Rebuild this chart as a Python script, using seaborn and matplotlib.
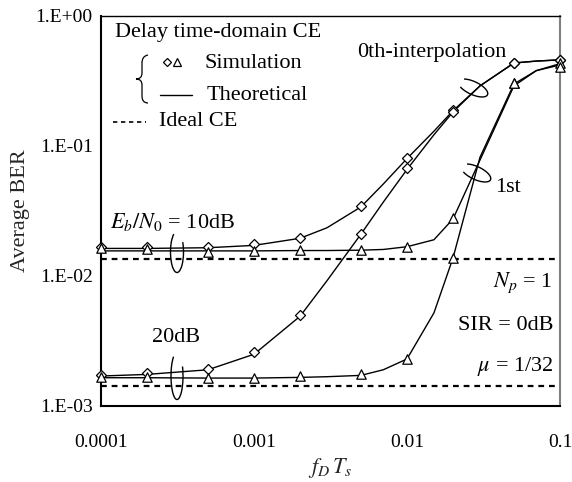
import matplotlib
matplotlib.use("Agg")
import matplotlib.pyplot as plt
import seaborn as sns
import numpy as np
import pandas as pd
from matplotlib import font_manager
from matplotlib.patches import Arc, PathPatch
from matplotlib.path import Path
from matplotlib.lines import Line2D
from matplotlib.transforms import IdentityTransform
from matplotlib.ticker import FixedLocator, FixedFormatter, LogLocator, NullFormatter

# ---------------- data ----------------
x_sim = [1e-4, 2e-4, 5e-4, 1e-3, 2e-3, 5e-3, 1e-2, 2e-2, 5e-2, 1e-1]
sim_0th_10 = [0.0167, 0.0168, 0.0168, 0.0176, 0.0197, 0.0346, 0.081, 0.189, 0.435, 0.46]
sim_0th_20 = [0.00173, 0.00178, 0.00193, 0.0026, 0.0050, 0.021, 0.068, 0.183, 0.435, 0.46]
sim_1st_10 = [0.0163, 0.0160, 0.0152, 0.0155, 0.0158, 0.0158, 0.0166, 0.0279, 0.305, 0.435]
sim_1st_20 = [0.00168, 0.00168, 0.00164, 0.00164, 0.0017, 0.00176, 0.0023, 0.0138, 0.305, 0.405]

x_th = [1e-4, 2e-4, 5e-4, 1e-3, 2e-3, 3e-3, 5e-3, 7e-3, 1e-2, 1.5e-2, 2e-2, 3e-2, 5e-2, 7e-2, 1e-1]
th_0th_10 = [0.0163, 0.0163, 0.0165, 0.0172, 0.0195, 0.0235, 0.034, 0.051, 0.080, 0.130, 0.187, 0.29, 0.435, 0.45, 0.46]
th_0th_20 = [0.0017, 0.00175, 0.0019, 0.0025, 0.0049, 0.0092, 0.021, 0.037, 0.066, 0.122, 0.183, 0.29, 0.435, 0.45, 0.46]
th_1st_10 = [0.0156, 0.0156, 0.0156, 0.0156, 0.0157, 0.0157, 0.0158, 0.0160, 0.0168, 0.019, 0.0275, 0.078, 0.29, 0.38, 0.43]
th_1st_20 = [0.00165, 0.00165, 0.00164, 0.00164, 0.00166, 0.00168, 0.00172, 0.0019, 0.0023, 0.0052, 0.0138, 0.082, 0.30, 0.38, 0.42]

x_ideal = [1e-4, 1e-1]
ideal_10 = [0.0134, 0.0134]
ideal_20 = [0.00142, 0.00142]

x_ticks = [1e-4, 1e-3, 1e-2, 1e-1]
x_ticklabels = ["0.0001", "0.001", "0.01", "0.1"]
y_ticks = [1e-3, 1e-2, 1e-1, 1e0]
y_ticklabels = ["1.E-03", "1.E-02", "1.E-01", "1.E+00"]

# ---------------- style ----------------
sns.set_theme(style="white")
_names = {f.name for f in font_manager.fontManager.ttflist}
serif = None
for cand in ("Liberation Serif", "Times New Roman", "STIXGeneral", "DejaVu Serif"):
    if cand in _names:
        serif = cand
        break
plt.rcParams["font.family"] = [serif, "DejaVu Serif"]
plt.rcParams["mathtext.fontset"] = "stix"

W, H = 572, 482
fig = plt.figure(figsize=(W / 100, H / 100), dpi=100)
ax = fig.add_axes([101 / W, 1 - 406 / H, (560 - 101) / W, (406 - 16) / H])

# theoretical curves
for ys in (th_0th_10, th_0th_20, th_1st_10, th_1st_20):
    sns.lineplot(x=x_th, y=ys, ax=ax, color="black", lw=1.0, estimator=None, sort=False)

# ideal CE
for ys in (ideal_10, ideal_20):
    sns.lineplot(x=x_ideal, y=ys, ax=ax, color="black", lw=1.6,
                 linestyle=(0, (2.6, 2.2)), estimator=None)

# simulation markers
for ys in (sim_0th_10, sim_0th_20):
    sns.scatterplot(x=x_sim, y=ys, ax=ax, marker="D", s=26, facecolor="white",
                    edgecolor="black", linewidth=0.9, zorder=4, clip_on=False)
for ys in (sim_1st_10, sim_1st_20):
    sns.scatterplot(x=x_sim, y=ys, ax=ax, marker="^", s=46, facecolor="white",
                    edgecolor="black", linewidth=0.9, zorder=4, clip_on=False)

ax.set_xscale("log")
ax.set_yscale("log")
ax.set_xlim(1e-4, 1e-1)
ax.set_ylim(1e-3, 1e0)

ax.xaxis.set_major_locator(FixedLocator(x_ticks))
ax.xaxis.set_major_formatter(FixedFormatter(x_ticklabels))
ax.yaxis.set_major_locator(FixedLocator(y_ticks))
ax.yaxis.set_major_formatter(FixedFormatter(y_ticklabels))
ax.xaxis.set_minor_locator(LogLocator(base=10, subs=np.arange(2, 10)))
ax.yaxis.set_minor_locator(LogLocator(base=10, subs=np.arange(2, 10)))
ax.xaxis.set_minor_formatter(NullFormatter())
ax.yaxis.set_minor_formatter(NullFormatter())

ax.tick_params(which="both", direction="in", top=False, right=False, colors="black",
               labelsize=14)
ax.tick_params(which="major", length=6, width=1.0)
ax.tick_params(which="minor", length=4, width=0.8)
ax.tick_params(axis="x", pad=20)
ax.tick_params(axis="y", pad=6)

for s in ("left", "bottom"):
    ax.spines[s].set_color("black")
    ax.spines[s].set_linewidth(1.5)
ax.spines["top"].set_color("black")
ax.spines["top"].set_linewidth(1.0)
ax.spines["right"].set_color("#808080")
ax.spines["right"].set_linewidth(1.5)
ax.grid(False)

ax.set_ylabel("Average BER", fontsize=16, labelpad=4)
ax.set_xlabel(r"$f_D\,T_s$", fontsize=16, labelpad=4)

# ---------------- annotations (pixel positions) ----------------
def fp(x, y):
    return (x / W, 1 - y / H)

def txt(x, y, s, ha="left", size=16):
    fig.text(*fp(x, y), s, ha=ha, va="center", fontsize=size, color="black")

txt(115, 33, "Delay time-domain CE")
txt(205, 63, "Simulation")
txt(207, 95, "Theoretical")
txt(159, 122, "Ideal CE")

fig.add_artist(Line2D([fp(160, 0)[0], fp(192, 0)[0]], [fp(0, 95)[1]] * 2,
                      transform=fig.transFigure, color="black", lw=1.0))
fig.add_artist(Line2D([fp(113, 0)[0], fp(146, 0)[0]], [fp(0, 122)[1]] * 2,
                      transform=fig.transFigure, color="black", lw=1.2,
                      linestyle=(0, (2.6, 2.2))))
fig.add_artist(Line2D([fp(167, 0)[0]], [fp(0, 62)[1]], transform=fig.transFigure,
                      marker="D", markersize=4.5, markerfacecolor="white",
                      markeredgecolor="black", markeredgewidth=0.9, linestyle="none"))
fig.add_artist(Line2D([fp(177, 0)[0]], [fp(0, 62)[1]], transform=fig.transFigure,
                      marker="^", markersize=6, markerfacecolor="white",
                      markeredgecolor="black", markeredgewidth=0.9, linestyle="none"))

# brace
def P(x, y):
    return (x, H - y)
verts = [P(148, 55), P(142, 56), P(142, 63),
         P(142, 73),
         P(142, 79), P(136, 79),
         P(142, 79), P(142, 85),
         P(142, 96),
         P(142, 103), P(148, 103)]
codes = [Path.MOVETO, Path.CURVE3, Path.CURVE3,
         Path.LINETO,
         Path.CURVE3, Path.CURVE3,
         Path.CURVE3, Path.CURVE3,
         Path.LINETO,
         Path.CURVE3, Path.CURVE3]
fig.add_artist(PathPatch(Path(verts, codes), transform=IdentityTransform(),
                         facecolor="none", edgecolor="black", lw=0.9))

txt(110, 222, r"$E_b/N_0$ = 10dB")
txt(152, 337, "20dB")
txt(507, 53, "0th-interpolation", ha="right")
txt(495, 188, "1st")
txt(553, 283, r"$N_p$ = 1", ha="right")
txt(553, 325, "SIR = 0dB", ha="right")
txt(553, 367, r"$\mu$ = 1/32", ha="right")

def ell(cx, cy, w, h, ang, t1=0, t2=360):
    a = Arc(P(cx, cy), w, h, angle=ang, theta1=t1, theta2=t2,
            transform=IdentityTransform(), color="black", lw=1.0)
    fig.add_artist(a)

ell(177, 252, 13, 41, 0, 100, 420)
ell(177, 376, 12, 47, 0, 100, 420)
ell(473, 88, 32, 13, -25, 200, 520)
ell(476, 173, 32, 13, -25, 200, 520)

fig.savefig("out.png", dpi=100)
